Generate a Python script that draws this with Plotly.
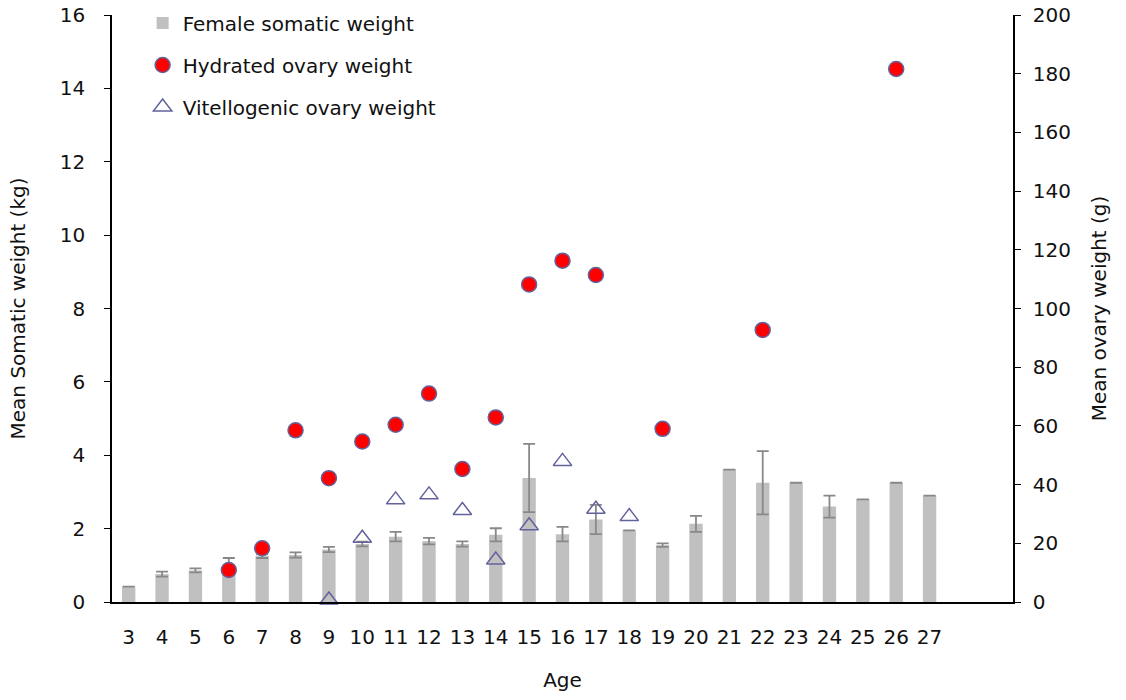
import plotly.graph_objects as go

# Data
ages = list(range(3, 28))
somatic_kg = [0.42, 0.76, 0.86, 1.00, 1.25, 1.28, 1.43, 1.58, 1.78, 1.66, 1.58, 1.83, 3.38,
              1.85, 2.25, 1.95, 1.55, 2.13, 3.61, 3.25, 3.25, 2.60, 2.80, 3.25, 2.90]
somatic_err = [0.0, 0.07, 0.055, 0.20, 0.05, 0.07, 0.07, 0.065, 0.13, 0.09, 0.07, 0.18, 0.93,
               0.20, 0.40, 0.0, 0.05, 0.22, 0.0, 0.86, 0.0, 0.30, 0.0, 0.0, 0.0]

hyd_ages = [6, 7, 8, 9, 10, 11, 12, 13, 14, 15, 16, 17, 19, 22, 26]
hyd_g = [10.9, 18.3, 58.5, 42.2, 54.7, 60.4, 71.0, 45.3, 62.9, 108.2, 116.3, 111.4, 59.0, 92.7, 181.6]

vit_ages = [9, 10, 11, 12, 13, 14, 15, 16, 17, 18]
vit_g = [0.7, 21.7, 34.8, 36.5, 31.2, 14.3, 26.0, 47.9, 31.6, 29.1]

FONT = "DejaVu Sans"
TXT = "#111111"
EDGE = "#62629c"

fig = go.Figure()
fig.add_trace(go.Bar(
    x=ages, y=somatic_kg, name="Female somatic weight",
    marker=dict(color="#c0c0c0", line=dict(width=0)),
    width=0.4,
    error_y=dict(type="data", array=somatic_err, symmetric=True,
                 color="#888888", thickness=1.8, width=6),
    legendgroup="a",
))
fig.add_trace(go.Scatter(
    x=hyd_ages, y=hyd_g, yaxis="y2", mode="markers", name="Hydrated ovary weight",
    marker=dict(symbol="circle", size=15, color="#ff0000", line=dict(color=EDGE, width=1.5)),
    legendgroup="b", cliponaxis=False,
))
fig.add_trace(go.Scatter(
    x=vit_ages, y=vit_g, yaxis="y2", mode="markers", name="Vitellogenic ovary weight",
    marker=dict(symbol="triangle-up-open", size=16, color=EDGE, line=dict(color=EDGE, width=1.5)),
    legendgroup="c", cliponaxis=False,
))

fig.update_layout(
    width=1126, height=700,
    margin=dict(l=112, r=113, t=15, b=98, autoexpand=False),
    paper_bgcolor="white", plot_bgcolor="white",
    font=dict(family=FONT, size=20, color=TXT),
    bargap=0.6,
    showlegend=True,
    legend=dict(x=0.034, y=0.995, xref="paper", yref="container", xanchor="left", yanchor="top",
                bgcolor="rgba(0,0,0,0)", tracegroupgap=13,
                font=dict(family=FONT, size=20, color=TXT),
                itemwidth=30),
    xaxis=dict(
        range=[2.5, 29.5], tickmode="array", tickvals=ages, ticktext=[str(a) for a in ages],
        showline=True, linecolor="black", linewidth=1.5, ticks="", showgrid=False,
        zeroline=False, ticklabelstandoff=16, automargin=False,
        title=dict(text="Age", standoff=25, font=dict(family=FONT, size=20, color=TXT)),
    ),
    yaxis=dict(
        range=[0, 16], tickvals=list(range(0, 17, 2)),
        showline=True, linecolor="black", linewidth=1.5, ticks="outside", ticklen=6,
        tickcolor="black", showgrid=False, zeroline=False, ticklabelstandoff=15, automargin=False,
        title=dict(text="Mean Somatic weight (kg)", standoff=29,
                   font=dict(family=FONT, size=20, color=TXT)),
    ),
    yaxis2=dict(
        range=[0, 200], tickvals=list(range(0, 201, 20)), overlaying="y", side="right",
        showline=True, linecolor="black", linewidth=1.5, ticks="outside", ticklen=6,
        tickcolor="black", showgrid=False, zeroline=False, ticklabelstandoff=8, automargin=False,
        title=dict(text="Mean ovary weight (g)", standoff=22,
                   font=dict(family=FONT, size=20, color=TXT)),
    ),
)

fig.write_html("out.html")
